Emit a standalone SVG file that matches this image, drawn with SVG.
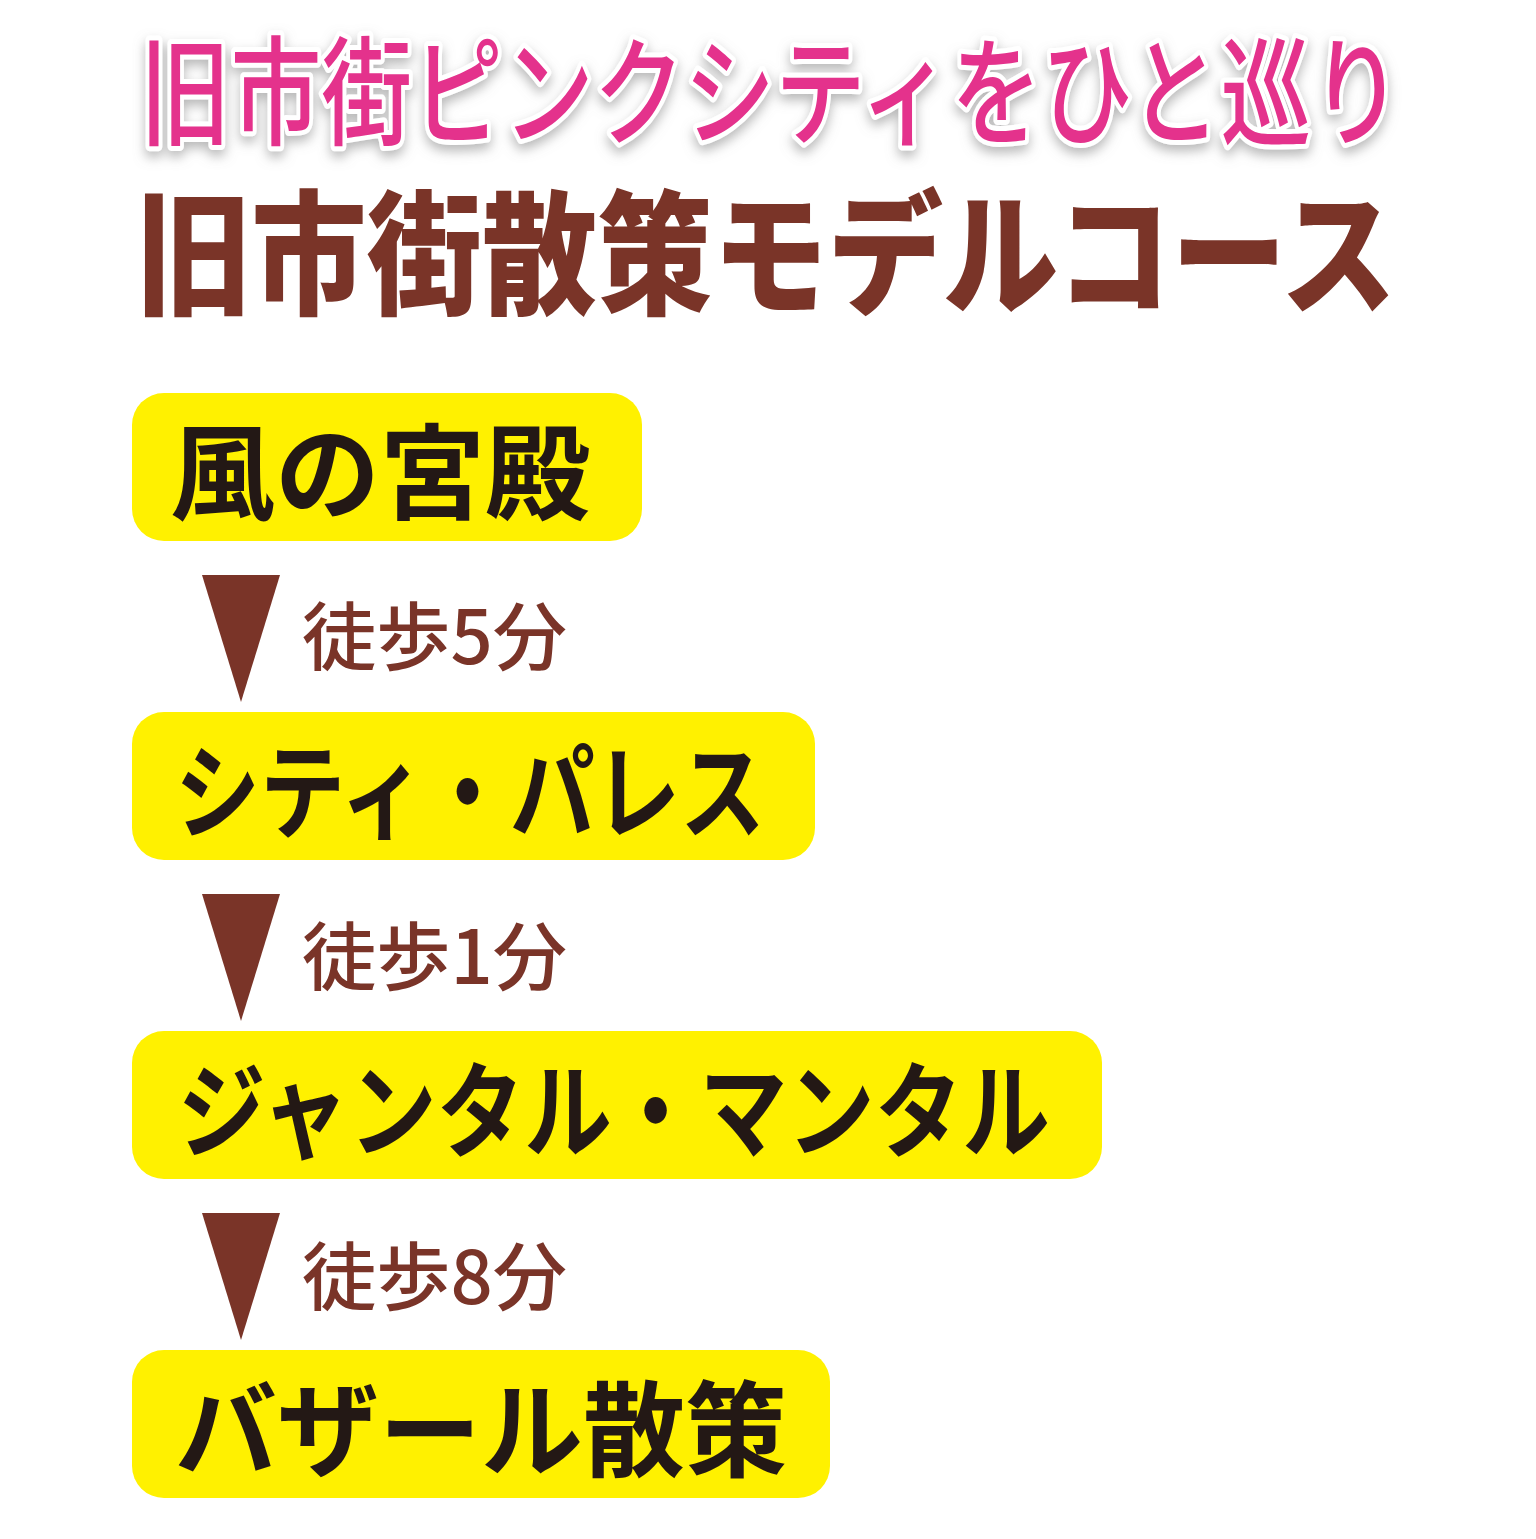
<svg xmlns="http://www.w3.org/2000/svg" width="1536" height="1539" viewBox="0 0 1536 1539">
<defs>
<style>
.t{font-family:"Noto Sans CJK JP","Noto Sans",sans-serif;}
.box{fill:#fff100;}
.bt{font-family:"Noto Sans CJK JP",sans-serif;font-weight:bold;font-size:104px;fill:#231815;}
.lb{font-family:"Noto Sans CJK JP",sans-serif;font-weight:500;font-size:74px;fill:#7a3428;}
.tri{fill:#7a3428;}
</style>
<filter id="sh" x="-5%" y="-20%" width="110%" height="150%"><feDropShadow dx="0" dy="6" stdDeviation="6" flood-color="#888" flood-opacity="0.6"/></filter>
</defs>
<rect width="1536" height="1539" fill="#fff"/>
<g id="title1" filter="url(#sh)">
<text class="t" x="140" y="136" font-size="118" font-weight="500" textLength="1262" lengthAdjust="spacingAndGlyphs" fill="#e4328c" stroke="#fff" stroke-width="10" paint-order="stroke" stroke-linejoin="round">旧市街ピンクシティをひと巡り</text>
</g>
<g id="title2">
<text class="t" x="136" y="304" font-size="134" font-weight="900" textLength="1260" lengthAdjust="spacingAndGlyphs" fill="#7a3428">旧市街散策モデルコース</text>
</g>
<g id="n1"><rect class="box" x="132" y="393" width="510" height="148" rx="32"/><text class="bt" x="170" y="512" textLength="420" lengthAdjust="spacingAndGlyphs">風の宮殿</text></g>
<g id="n2"><rect class="box" x="132" y="712" width="683" height="148" rx="32"/><text class="bt" x="175" y="831" textLength="590" lengthAdjust="spacingAndGlyphs">シティ・パレス</text></g>
<g id="n3"><rect class="box" x="132" y="1031" width="970" height="148" rx="32"/><text class="bt" x="178" y="1150" textLength="872" lengthAdjust="spacingAndGlyphs">ジャンタル・マンタル</text></g>
<g id="n4"><rect class="box" x="132" y="1350" width="698" height="148" rx="32"/><text class="bt" x="175" y="1469" textLength="612" lengthAdjust="spacingAndGlyphs">バザール散策</text></g>
<g id="connectors">
<polygon class="tri" points="202,575 280,575 241,702"/>
<text class="lb" x="302" y="664" textLength="265" lengthAdjust="spacingAndGlyphs">徒歩5分</text>
<polygon class="tri" points="202,894 280,894 241,1021"/>
<text class="lb" x="302" y="984" textLength="265" lengthAdjust="spacingAndGlyphs">徒歩1分</text>
<polygon class="tri" points="202,1213 280,1213 241,1340"/>
<text class="lb" x="302" y="1304" textLength="265" lengthAdjust="spacingAndGlyphs">徒歩8分</text>
</g>
</svg>
